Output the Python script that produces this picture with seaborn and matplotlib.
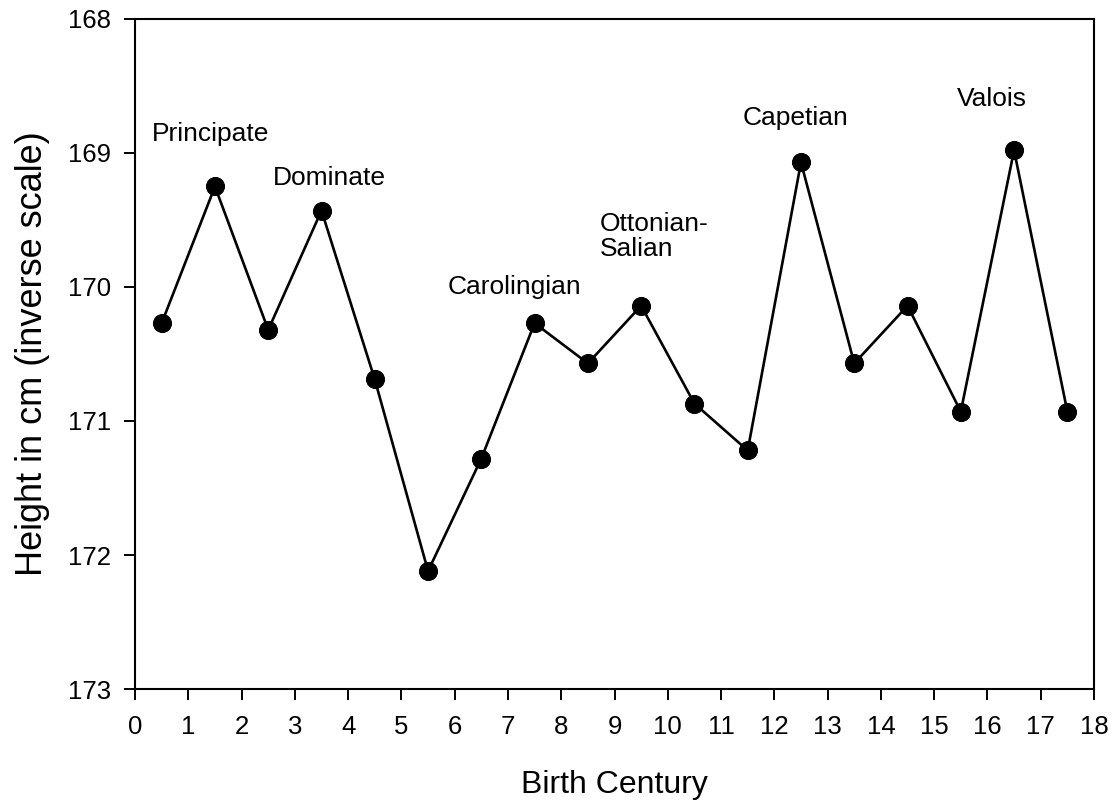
import numpy as np
import pandas as pd
import matplotlib
matplotlib.use("Agg")
import matplotlib.pyplot as plt
import seaborn as sns

# data
century = [0.5, 1.5, 2.5, 3.5, 4.5, 5.5, 6.5, 7.5, 8.5, 9.5,
           10.5, 11.5, 12.5, 13.5, 14.5, 15.5, 16.5, 17.5]
height = [170.27, 169.25, 170.32, 169.43, 170.69, 172.12, 171.28, 170.27, 170.57,
          170.14, 170.87, 171.22, 169.07, 170.57, 170.14, 170.93, 168.98, 170.93]

era_labels = ["Principate", "Dominate", "Carolingian", "Ottonian-\nSalian", "Capetian", "Valois"]
era_x = [0.32, 2.59, 5.87, 8.72, 11.4, 15.43]
era_y = [168.86, 169.19, 170.0, 169.62, 168.74, 168.6]

sns.set_style("ticks")
plt.rcParams['font.family'] = ['Liberation Sans', 'DejaVu Sans']

df = pd.DataFrame({'century': century, 'height': height})

fig = plt.figure(figsize=(11.17, 8.07), dpi=100)
ax = fig.add_axes([0.1209, 0.1462, 0.8585, 0.8303])

sns.lineplot(data=df, x='century', y='height', ax=ax, color='black',
             linewidth=1.9, marker='o', markersize=13, markeredgecolor='black',
             markerfacecolor='black')

for lab, x, y in zip(era_labels, era_x, era_y):
    ax.text(x, y, lab, fontsize=19, ha='left', va='center', linespacing=1.05,
            color='black')

ax.set_xlim(0, 18)
ax.set_ylim(173, 168)
ax.set_xticks(range(0, 19))
ax.set_yticks(range(168, 174))
ax.tick_params(axis='both', labelsize=18.5, direction='out', length=8, width=1.4,
               colors='black')
ax.tick_params(axis='y', pad=9)
ax.tick_params(axis='x', pad=11)
for sp in ax.spines.values():
    sp.set_linewidth(1.5)
    sp.set_color('black')

ax.set_xlabel('Birth Century', fontsize=23, color='black')
ax.set_ylabel('Height in cm (inverse scale)', fontsize=26, color='black')
ax.xaxis.label.set_va('center')
ax.yaxis.label.set_va('center')
ax.xaxis.set_label_coords(0.5, -0.1433)
ax.yaxis.set_label_coords(-0.1074, 0.5)

fig.savefig('out.png', dpi=100)
